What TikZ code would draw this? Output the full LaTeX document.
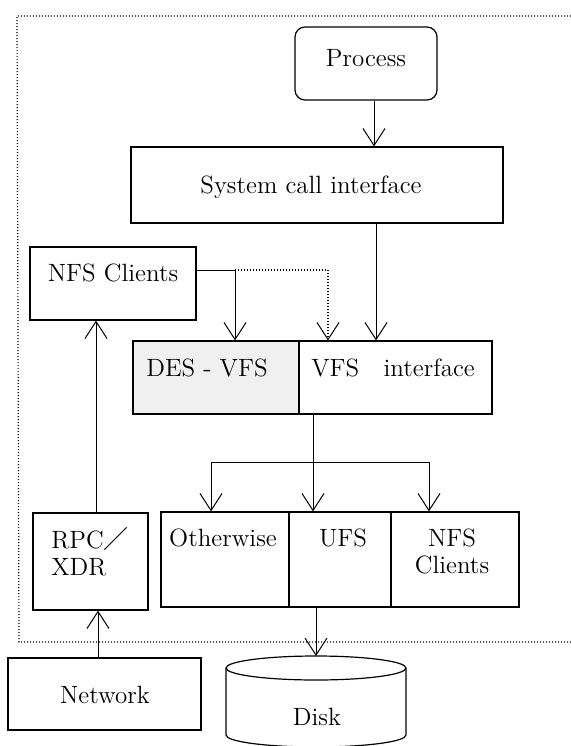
\documentclass[tikz,border=0pt]{standalone}
\usepackage{fontspec}
\newfontfamily\cjk{Noto Sans CJK SC}
\usetikzlibrary{arrows.meta}
\begin{document}
\begin{tikzpicture}[x=0.5pt,y=-0.5pt,
  font=\fontsize{12.5}{13.5}\selectfont,
  box/.style={draw, line width=0.6pt, inner sep=0pt},
  txt/.style={inner sep=0pt},
  conn/.style={line width=0.5pt},
  arr/.style={conn, -{Straight Barb[length=8.5pt,width=11pt,line width=0.5pt]}},
  frame/.style={line width=0.6pt, dash pattern=on 0.5pt off 1pt}]
\useasboundingbox (0,0) rectangle (571,746);
% dotted frame
\draw[frame] (571,16) -- (17,16) -- (19,642) -- (571,642);
% boxes
\node[box, rounded corners=5pt, minimum width=71pt, minimum height=36.5pt] (proc) at (366,63.5) {};
\node[txt] (proct) at (366,58) {Process};
\node[box, minimum width=186pt, minimum height=38pt] (sci) at (317,185) {};
\node[txt] (scit) at (311,187) {System call interface};
\node[box, minimum width=83pt, minimum height=36.5pt] (nfsa) at (113,283.5) {};
\node[txt] (nfsat) at (113,273) {NFS Clients};
\node[box, fill=black!6, minimum width=83pt, minimum height=36.5pt] (des) at (216,377.5) {};
\node[txt] (dest) at (207,368) {DES - VFS};
\node[box, minimum width=96.5pt, minimum height=36.5pt] (vfs) at (395.5,377.5) {};
\node[txt] (vfst) at (393,368) {VFS\ \ \ interface};
\node[box, minimum width=64pt, minimum height=47.5pt] (oth) at (225,559.5) {};
\node[txt] (otht) at (223,538) {Otherwise};
\node[box, minimum width=51pt, minimum height=47.5pt] (ufs) at (340,559.5) {};
\node[txt] (ufst) at (343,538) {UFS};
\node[box, minimum width=64pt, minimum height=47.5pt] (nfsb) at (455,559.5) {};
\node[txt, align=center] (nfsbt) at (452,551.5) {NFS\\Clients};
\node[box, minimum width=57.5pt, minimum height=48.5pt] (rpc) at (90.5,561.5) {};
\node[txt, align=left, anchor=west] (rpct) at (51,551.5) {RPC{\cjk ／}\\XDR};
\node[box, minimum width=96.5pt, minimum height=36pt] (net) at (104.5,694) {};
\node[txt] (nett) at (105,695) {Network};
% disk
\coordinate (disktop) at (316,656);
\draw[line width=0.6pt] (226,668) -- (226,735) arc[start angle=180, end angle=360, x radius=45pt, y radius=6pt] -- (406,668);
\draw[line width=0.6pt] (316,668) ellipse [x radius=45pt, y radius=6pt];
\node[txt] (diskt) at (317,717) {Disk};
% connectors
\draw[arr] (proc.south -| 374,0) -- (sci.north -| 374,0);
\draw[arr] (sci.south -| 376,0) -- (vfs.north -| 376,0);
\coordinate (nfsr) at (nfsa.east |- 0,270);
\coordinate (bend) at (235,270);
\draw[arr] (nfsr) -- (bend) -- (des.north -| bend);
\draw[arr, frame] (bend) -- (328,270) -- (vfs.north -| 328,0);
\coordinate (split) at (313,462);
\draw[conn] (vfs.south -| split) -- (split);
\draw[arr] (split) -- (ufs.north -| split);
\draw[arr] (split) -- (211,462) -- (oth.north -| 211,0);
\draw[arr] (split) -- (429,462) -- (nfsb.north -| 429,0);
\draw[arr] (rpc.north -| 96,0) -- (nfsa.south -| 96,0);
\draw[arr] (net.north -| 98,0) -- (rpc.south -| 98,0);
\draw[arr] (ufs.south -| disktop) -- (disktop);
\end{tikzpicture}
\end{document}
